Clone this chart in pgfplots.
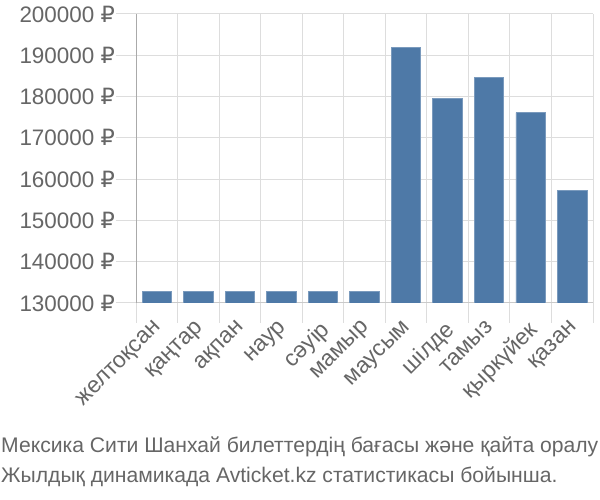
\documentclass[border=0pt]{standalone}
\usepackage{pgfplots}
\pgfplotsset{compat=1.18}
\usepackage{fontspec}
\setmainfont{Liberation Sans}
\newfontfamily\rubfont{DejaVu Sans}
\newcommand{\rub}{{\rubfont ₽}}
\definecolor{barblue}{HTML}{4E79A7}
\definecolor{txtgray}{HTML}{666666}
\definecolor{gridgray}{HTML}{DDDDDD}
\definecolor{axisgray}{HTML}{AAAAAA}
\begin{document}
\begin{tikzpicture}[x=1bp,y=1bp]
\path[use as bounding box] (0,0) rectangle (600,500);
\begin{axis}[
  at={(136bp,197bp)}, anchor=south west,
  scale only axis, width=457bp, height=289bp,
  xmin=-0.5, xmax=10.5, ymin=130000, ymax=200000,
  axis lines=left,
  axis line style={draw=axisgray, line width=1bp, -},
  x axis line style={draw=gridgray!80!gray},
  xtick={-0.5,0.5,1.5,2.5,3.5,4.5,5.5,6.5,7.5,8.5,9.5,10.5},
  xticklabels={},
  extra x ticks={0,1,2,3,4,5,6,7,8,9,10},
  extra x tick labels={желтоқсан,қаңтар,ақпан,наур,сәуір,мамыр,маусым,шілде,тамыз,қыркүйек,қазан},
  extra x tick style={grid=none, major tick length=0pt, tick style={draw=none}},
  ytick={130000,140000,150000,160000,170000,180000,190000,200000},
  yticklabels={130000 \rub,140000 \rub,150000 \rub,160000 \rub,170000 \rub,180000 \rub,190000 \rub,200000 \rub},
  xmajorgrids, ymajorgrids,
  major grid style={draw=gridgray, line width=1bp},
  tick align=outside,
  major tick length=20bp,
  tick style={draw=gridgray, line width=1bp},
  yticklabel style={font=\fontsize{22.5}{22.5}\selectfont, text=txtgray, anchor=east, inner sep=1bp},
  xticklabel style={font=\fontsize{23}{23}\selectfont, text=txtgray, xshift=-4bp, yshift=-16bp, rotate=45, anchor=north east, inner sep=0bp},
  scaled y ticks=false,
  clip=true,
]
\addplot[ybar, bar width=0.71, fill=barblue, draw=barblue!75!white, line width=0.8bp] coordinates {
  (0,132800) (1,132800) (2,132800) (3,132800) (4,132800) (5,132800)
  (6,191900) (7,179600) (8,184700) (9,176100) (10,157200)
};
\end{axis}
\node[anchor=north west, align=left, inner sep=0pt, text=txtgray, font=\fontsize{21.2}{30}\selectfont] at (1,63) {Мексика Сити Шанхай билеттердің бағасы және қайта оралу\\Жылдық динамикада Avticket.kz статистикасы бойынша.};
\end{tikzpicture}
\end{document}
